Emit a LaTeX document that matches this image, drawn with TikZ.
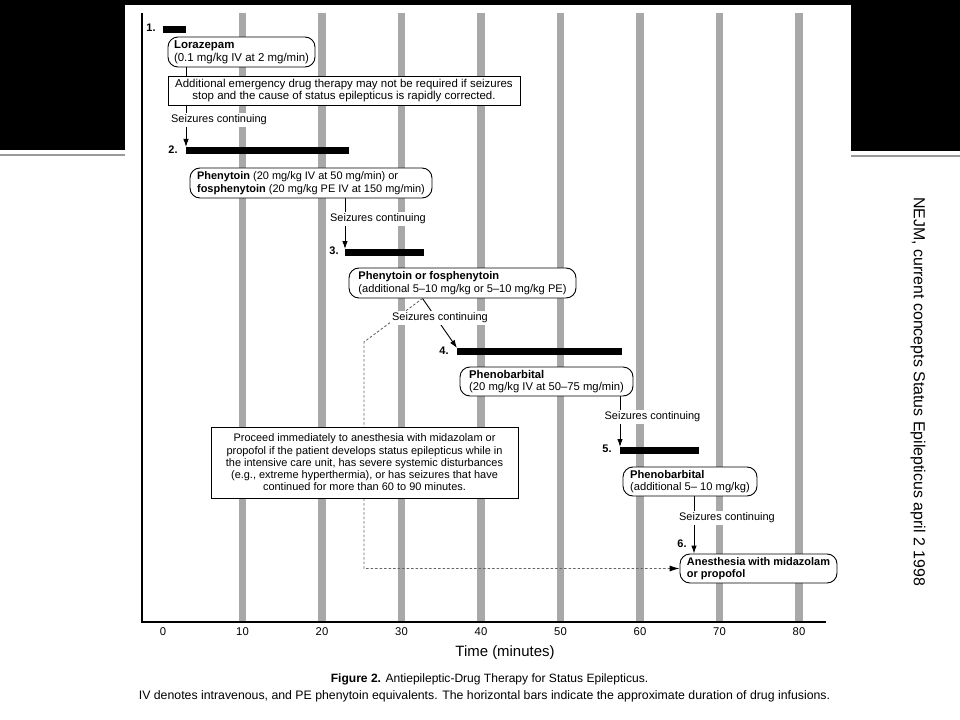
\documentclass[tikz,border=0pt]{standalone}
\usepackage{fontspec}
\setmainfont{Liberation Sans}
\usetikzlibrary{arrows.meta}
\pgfdeclarelayer{bg}
\pgfdeclarelayer{conn}
\pgfsetlayers{bg,conn,main}
\newcommand\figfont{\fontsize{11}{12.6}\selectfont}
\newcommand\fsize[1]{\fontsize{#1}{12.6}\selectfont}
\definecolor{barg}{HTML}{A8A8A8}
\definecolor{dgray}{HTML}{666666}
\tikzset{
 pill/.style={draw=black, line width=0.9bp, rounded corners=10bp, fill=white, inner sep=0pt, align=left, font=\figfont},
 sqbox/.style={draw=black, line width=0.9bp, fill=white, inner sep=0pt, align=center, font=\figfont},
 lbl/.style={fill=white, inner sep=2bp, font=\figfont},
 num/.style={inner sep=0pt, font=\figfont\bfseries},
 bar/.style={fill=black, inner sep=0pt, anchor=north west, minimum height=7bp},
 arr/.style={-{Latex[length=8bp,width=5.5bp]}, line width=0.9bp},
 conn/.style={line width=0.9bp},
 dsh/.style={dash pattern=on 2.5bp off 2bp, line width=0.9bp, draw=dgray},
 tick/.style={font=\fsize{11.3}, inner sep=0pt},
}
\begin{document}
\begin{tikzpicture}[x=1bp,y=-1bp]
\useasboundingbox (0,0) rectangle (960,720);
\begin{pgfonlayer}{bg}
\fill[white] (0,0) rectangle (960,720);
\fill[black] (0,0) rectangle (125,150);
\fill[black] (851,0) rectangle (960,151);
\fill[black] (125,0) rectangle (851,5);
\draw[line width=2bp, black!40] (0,155.5) -- (125,155.5);
\draw[line width=2bp, black!40] (851,156) -- (960,156);
\foreach \t in {10,20,...,80}
  \fill[barg] ({163+7.95*\t-3.6},13) rectangle ({163+7.95*\t+3.6},622);
\draw[line width=1.2bp] (142,13) -- (142,622) -- (826,622);
\end{pgfonlayer}

% tick labels
\foreach \t in {0,10,...,80}
  \node[tick] (t\t) at ({163+7.95*\t},632) {\t};
\node[font=\fontsize{15}{16}\selectfont, inner sep=0pt] (xl) at (505,653) {Time (minutes)};
\node[font=\fontsize{12.1}{14}\selectfont, inner sep=0pt] (cap1) at (489.5,679) {\textbf{Figure 2.} Antiepileptic-Drug Therapy for Status Epilepticus.};
\node[font=\fontsize{12.35}{14}\selectfont, inner sep=0pt] (cap2) at (484.5,696) {IV denotes intravenous, and PE phenytoin equivalents. The horizontal bars indicate the approximate duration of drug infusions.};

\node[rotate=-90, font=\fontsize{16}{18}\selectfont, inner sep=0pt] (side) at (918,391.5) {NEJM, current concepts Status Epilepticus april 2 1998};

% steps
\node[pill, minimum width=147bp, minimum height=30bp, font=\fsize{11.5}] (lor) at (241.5,52) {\textbf{Lorazepam}\\(0.1 mg/kg IV at 2 mg/min)};
\node[sqbox, minimum width=352bp, minimum height=29bp, font=\fsize{11.5}] (add) at (344,90.5) {Additional emergency drug therapy may not be required if seizures\\stop and the cause of status epilepticus is rapidly corrected.};
\node[bar, minimum width=23bp] (b1) at (163,26) {};
\node[num] (n1) at (151,28) {1.};
\node[lbl] (s1) at (219,120) {Seizures continuing};
\node[bar, minimum width=163bp] (b2) at (186,147) {};
\node[num] (n2) at (173,150) {2.};
\node[pill, minimum width=242bp, minimum height=30bp] (phen) at (311,183) {\textbf{Phenytoin} (20 mg/kg IV at 50 mg/min) or\\\textbf{fosphenytoin} (20 mg/kg PE IV at 150 mg/min)};
\node[lbl] (s2) at (378,219) {Seizures continuing};
\node[bar, minimum width=79bp] (b3) at (345,249) {};
\node[num] (n3) at (334,251) {3.};
\node[pill, minimum width=227bp, minimum height=30bp, font=\fsize{11.15}] (pof) at (462.5,283) {\textbf{Phenytoin or fosphenytoin}\\(additional 5–10 mg/kg or 5–10 mg/kg PE)};
\node[lbl] (s3) at (440,318) {Seizures continuing};
\node[bar, minimum width=165bp] (b4) at (457,348) {};
\node[num] (n4) at (444,351) {4.};
\node[pill, minimum width=173bp, minimum height=29bp, font=\fsize{11.3}] (pb1) at (546.5,381.5) {\textbf{Phenobarbital}\\(20 mg/kg IV at 50–75 mg/min)};
\node[lbl] (s4) at (652.5,417) {Seizures continuing};
\node[bar, minimum width=79bp] (b5) at (620,447) {};
\node[num] (n5) at (607,449) {5.};
\node[pill, minimum width=134bp, minimum height=29bp, font=\fsize{11.2}] (pb2) at (690,481.5) {\textbf{Phenobarbital}\\(additional 5– 10 mg/kg)};
\node[lbl] (s5) at (727,518) {Seizures continuing};
\node[num] (n6) at (682,544) {6.};
\node[pill, minimum width=157bp, minimum height=29bp] (an) at (758.5,568.5) {\textbf{Anesthesia with midazolam}\\\textbf{or propofol}};
\node[sqbox, minimum width=307bp, minimum height=71bp, font=\fontsize{11}{12.3}\selectfont] (proc) at (364.5,462.5) {Proceed immediately to anesthesia with midazolam or\\propofol if the patient develops status epilepticus while in\\the intensive care unit, has severe systemic disturbances\\(e.g., extreme hyperthermia), or has seizures that have\\continued for more than 60 to 90 minutes.};

\coordinate (d1) at (364,342);
\begin{pgfonlayer}{conn}
\draw[conn] (lor.south -| b2.north west) -- (add.north -| b2.north west);
\draw[arr] (add.south -| b2.north west) -- (b2.north west);
\draw[arr] (phen.south -| b3.north west) -- (b3.north west);
\draw[arr] ([xshift=-40bp]pof.south) -- (b4.north west);
\draw[arr] (pb1.south -| b5.north west) -- (b5.north west);
\draw[arr] ([xshift=4bp]pb2.south) -- ([xshift=4bp]pb2.south |- an.north);
\draw[dsh, -{Latex[length=10bp,width=6bp,black]}] ([xshift=-40bp]pof.south) -- (d1) -- (d1 |- an.west) -- (an.west);
\end{pgfonlayer}
\end{tikzpicture}
\end{document}
